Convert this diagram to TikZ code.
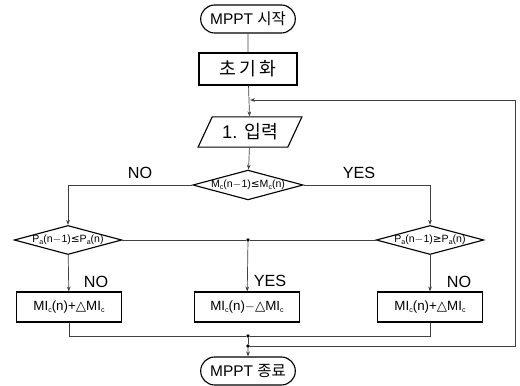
\documentclass[tikz,border=0pt]{standalone}
\usepackage{fontspec}
\setmainfont{Liberation Sans}
\newfontfamily\kr{Noto Sans CJK KR}
\newfontfamily\krwide[LetterSpace=18]{Noto Sans CJK KR}
\newfontfamily\dejavu{DejaVu Sans}
\usepackage{tikz}
\usetikzlibrary{shapes.geometric, shapes.misc, arrows.meta, positioning, calc}
\newcommand{\lowsub}[1]{\raisebox{-0.35ex}{\fontsize{5}{6}\selectfont #1}}
\tikzset{
    terminal/.style={
        rounded rectangle,
        draw=black,
        line width=0.8pt,
        minimum width=2.6cm,
        minimum height=0.7cm,
        font=\fontsize{11}{13}\selectfont
    },
    process/.style={
        rectangle,
        draw=black,
        line width=0.8pt,
        minimum width=2.62cm,
        minimum height=0.75cm,
        font=\fontsize{9.5}{11}\selectfont
    },
    io/.style={
        trapezium,
        trapezium left angle=65,
        trapezium right angle=115,
        draw=black,
        line width=0.8pt,
        minimum width=2.6cm,
        minimum height=0.75cm,
        font=\fontsize{13}{15}\selectfont
    },
    decision/.style={
        diamond,
        aspect=3.7,
        draw=black,
        line width=0.8pt,
        inner sep=0pt,
        font=\fontsize{7.5}{9}\selectfont
    },
    answer/.style={
        font=\fontsize{11.5}{13}\selectfont
    },
    junction/.style={
        circle,
        fill=black,
        inner sep=0pt,
        minimum size=2.6pt
    },
    line/.style={
        draw=black!75,
        line width=0.5pt
    },
    flow/.style={
        draw=black!75,
        line width=0.5pt,
        -{Stealth[length=3.5pt,width=2.6pt]}
    }
}

\begin{document}
\begin{tikzpicture}[x=0.025cm, y=-0.025cm]
\useasboundingbox (0,0) rectangle (520,386);

% Start / init / input
\node[terminal] (start) at (248,19) {MPPT {\kr 시작}};
\node[process, minimum width=2.45cm, minimum height=0.8cm, font=\fontsize{13}{15}\selectfont] (init) at (248,69) {\krwide 초기화};
\node[io] (input) at (250,132) {1. {\kr 입력}};

% First decision
\node[decision] (dec1) at (248,185) {M\lowsub{c}(n$-$1){\dejavu ≤}M\lowsub{c}(n)};
\node[answer] (ans_no) at (140,173) {NO};
\node[answer] (ans_yes) at (359,173) {YES};

% Second decisions
\node[decision] (dec2l) at (68,240) {P\lowsub{a}(n$-$1){\dejavu ≤}P\lowsub{a}(n)};
\node[decision] (dec2r) at (430,240) {P\lowsub{a}(n$-$1){\dejavu ≥}P\lowsub{a}(n)};
\node[junction] (jmid) at (248,240) {};

% Update boxes
\node[process] (boxl) at (69,307) {MI\lowsub{c}(n)+{\dejavu △}MI\lowsub{c}};
\node[process] (boxm) at (247,307) {MI\lowsub{c}(n)$-${\dejavu △}MI\lowsub{c}};
\node[process] (boxr) at (430,307) {MI\lowsub{c}(n)+{\dejavu △}MI\lowsub{c}};
\node[answer] (ans_nol) at (96,282) {NO};
\node[answer] (ans_yesm) at (270,281) {YES};
\node[answer] (ans_nor) at (459,282) {NO};

% End
\node[junction] (jbot1) at (248,336) {};
\node[junction] (jbot2) at (248,346) {};
\node[terminal] (stop) at (248,371) {MPPT {\kr 종료}};

% Loop back
\coordinate (loopcorner) at (515,346);
\coordinate (entry) at (250,100);

% Connections
\draw[line] (start) -- (init);
\draw[flow] (init) -- (input);
\draw[flow] (input) -- (dec1);
\draw[flow] (dec1.west) -| (dec2l.north);
\draw[flow] (dec1.east) -| (dec2r.north);
\draw[line] (dec2l.east) -- (jmid);
\draw[line] (dec2r.west) -- (jmid);
\draw[flow] (jmid) -- (boxm);
\draw[flow] (dec2l) -- (boxl);
\draw[flow] (dec2r) -- (boxr);
\draw[line] (boxl.south) |- (jbot1);
\draw[line] (boxr.south) |- (jbot1);
\draw[line] (jbot1) -- (jbot2);
\draw[flow] (jbot2) -- (stop);
\draw[flow] (jbot2) -- (loopcorner) |- (entry);

\end{tikzpicture}
\end{document}
